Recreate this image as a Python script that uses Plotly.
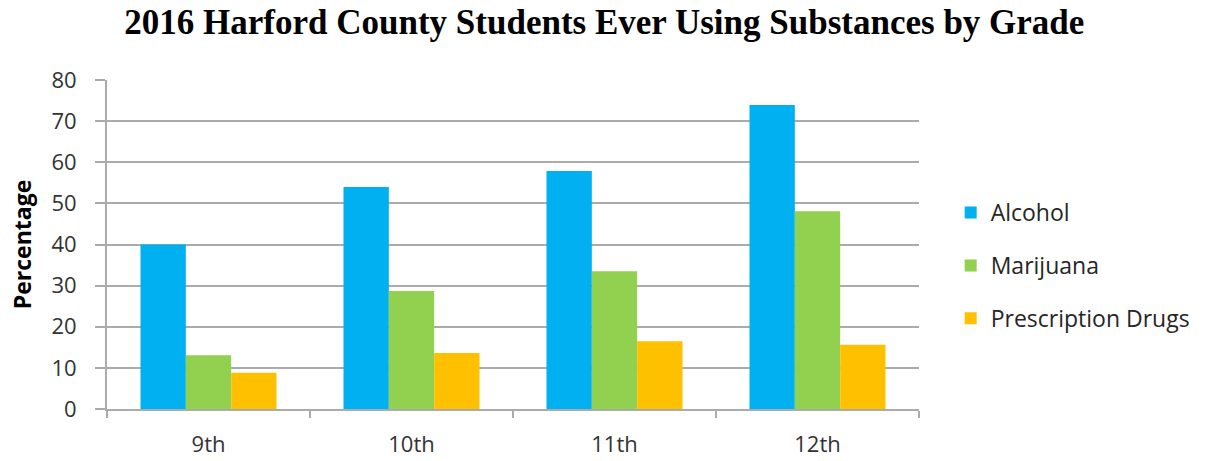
import plotly.graph_objects as go

grades = ["9th", "10th", "11th", "12th"]
alcohol = [40, 54, 57.9, 73.9]
marijuana = [13.1, 28.7, 33.5, 48.1]
prescription = [8.8, 13.6, 16.5, 15.6]
series_names = ["Alcohol", "Marijuana", "Prescription Drugs"]
colors = ["#00B0F0", "#92D050", "#FFC000"]
title_text = "2016 Harford County Students Ever Using Substances by Grade"
y_ticks = [0, 10, 20, 30, 40, 50, 60, 70, 80]

fig = go.Figure()
for name, vals, col in zip(series_names, [alcohol, marijuana, prescription], colors):
    fig.add_trace(go.Bar(x=grades, y=vals, name=name, marker=dict(color=col, line=dict(width=0)),
                         legendgroup=name))

sans = "Open Sans, Noto Sans, sans-serif"
label_font = dict(family=sans, size=22, color="#333333")
fig.update_layout(
    width=1216, height=461,
    margin=dict(l=107, r=297, t=80, b=52, autoexpand=False),
    plot_bgcolor="white", paper_bgcolor="white",
    barmode="group", bargap=0.33, bargroupgap=0,
    title=dict(text="<b>" + title_text + "</b>", x=0.497, xanchor="center", y=0.953, yanchor="middle",
               font=dict(family="Liberation Serif, Times New Roman, serif", size=35, color="black")),
    legend=dict(x=1.039, xanchor="left", y=0.436, yanchor="middle",
                font=dict(family=sans, size=23, color="#262626"),
                tracegroupgap=20, traceorder="grouped", itemwidth=30, bgcolor="rgba(0,0,0,0)"),
    showlegend=True,
)
fig.update_yaxes(range=[0, 80], tickvals=y_ticks, showgrid=True, gridcolor="#ababab", gridwidth=2,
                 showline=True, linecolor="#ababab", linewidth=2, ticks="outside", ticklen=10,
                 tickcolor="#ababab", tickwidth=2, tickfont=label_font, zeroline=False,
                 ticklabelstandoff=14, automargin=False,
                 title=dict(text="<b>Percentage</b>", font=dict(family=sans, size=23, color="black"), standoff=13))
fig.update_xaxes(showline=True, linecolor="#ababab", linewidth=2, ticks="outside", tickson="boundaries",
                 ticklen=7, tickcolor="#ababab", tickwidth=2, tickfont=label_font, showgrid=False,
                 ticklabelstandoff=15, automargin=False)

fig.write_html("out.html", config={"displayModeBar": False},
               post_script="document.body.style.margin='0';")
